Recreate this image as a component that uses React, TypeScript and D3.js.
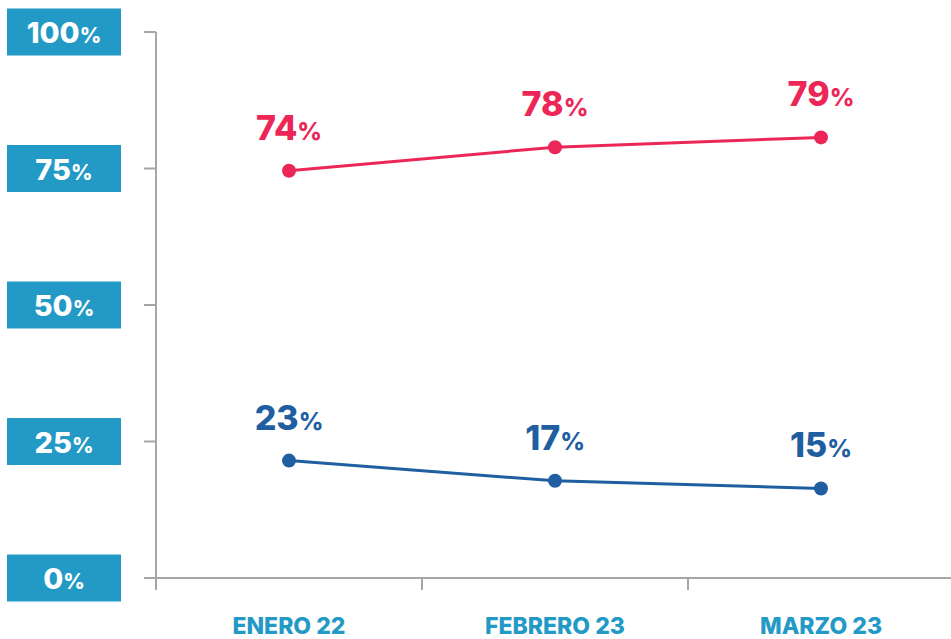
import React, { useEffect } from 'react';
import * as d3 from 'd3';

// categories and series (plotted positions, labels as printed)
const categories = ['ENERO 22', 'FEBRERO 23', 'MARZO 23'];
const redValues = [74.6, 78.9, 80.7];
const redLabels = ['74', '78', '79'];
const blueValues = [21.5, 17.8, 16.4];
const blueLabels = ['23', '17', '15'];
const yTicks = [0, 25, 50, 75, 100];

const W = 951;
const H = 639;
const RED = '#ec2758';
const BLUE = '#1f5fa1';
const BOX = '#2399c6';
const AXIS = '#a6a6a6';
const FONT = 'Inter, "Noto Sans", sans-serif';

const App: React.FC = () => {
  useEffect(() => {
    document.body.style.margin = '0';
  }, []);

  const margin = { top: 32, right: 0, bottom: 61, left: 156 };
  const x = d3.scaleBand<string>()
    .domain(categories)
    .range([margin.left, margin.left + 798])
    .padding(0);
  const y = d3.scaleLinear()
    .domain([0, 100])
    .range([H - margin.bottom, margin.top]);

  const cx = (c: string) => (x(c) ?? 0) + x.bandwidth() / 2;
  const line = d3.line<number>()
    .x((_, i) => cx(categories[i]))
    .y(d => y(d));

  const series = [
    { values: redValues, labels: redLabels, color: RED },
    { values: blueValues, labels: blueLabels, color: BLUE }
  ];

  const y0 = y(0);

  return (
    <svg width={W} height={H} style={{ display: 'block' }} fontFamily={FONT}>
      {/* y axis */}
      <line x1={margin.left} x2={margin.left} y1={y(100)} y2={y0 + 12} stroke={AXIS} strokeWidth={2} />
      {yTicks.map(t => (
        <g key={t}>
          <line x1={margin.left - 12} x2={margin.left} y1={y(t)} y2={y(t)} stroke={AXIS} strokeWidth={2} />
          <rect x={7} y={y(t) - 23.5} width={114} height={47} fill={BOX} />
          <text x={64} y={y(t) + 11} textAnchor="middle" fill="#fff" fontWeight={800}>
            <tspan fontSize={29}>{t}</tspan>
            <tspan fontSize={21}>%</tspan>
          </text>
        </g>
      ))}

      {/* x axis */}
      <line x1={margin.left - 12} x2={W} y1={y0} y2={y0} stroke={AXIS} strokeWidth={2} />
      {categories.map(c => (
        <g key={c}>
          <line x1={x(c)} x2={x(c)} y1={y0} y2={y0 + 12} stroke={AXIS} strokeWidth={2} />
          <text x={cx(c)} y={634} textAnchor="middle" fill={BOX} fontWeight={800} fontSize={23}>
            {c}
          </text>
        </g>
      ))}

      {/* series */}
      {series.map((s, si) => (
        <g key={si}>
          <path d={line(s.values) ?? ''} fill="none" stroke={s.color} strokeWidth={3} />
          {s.values.map((v, i) => (
            <g key={i}>
              <circle cx={cx(categories[i])} cy={y(v)} r={7} fill={s.color} />
              <text x={cx(categories[i])} y={y(v) - 31} textAnchor="middle" fill={s.color} fontWeight={800}>
                <tspan fontSize={34}>{s.labels[i]}</tspan>
                <tspan fontSize={24}>%</tspan>
              </text>
            </g>
          ))}
        </g>
      ))}
    </svg>
  );
};

export default App;
